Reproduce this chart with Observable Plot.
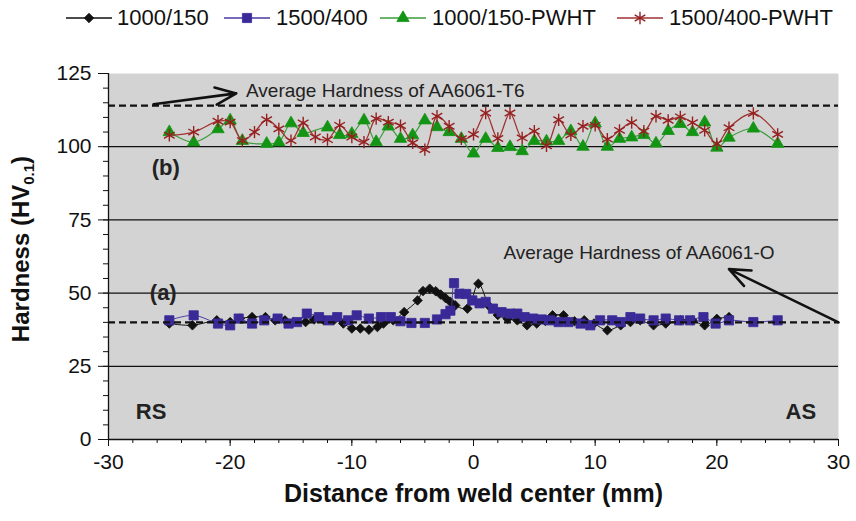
<!DOCTYPE html>
<html><head><meta charset="utf-8">
<script src="https://cdn.jsdelivr.net/npm/d3@7"></script>
<script src="https://cdn.jsdelivr.net/npm/@observablehq/plot@0.6"></script>
<style>
body{margin:0;background:#fff;font-family:"Liberation Sans",Arial,sans-serif;}
#wrap{position:relative;width:856px;height:521px;overflow:hidden;}
#legend{position:relative;height:36px;width:856px;}
.li{position:absolute;top:0;height:36px;display:flex;align-items:center;font-size:22px;color:#111;}
.ls{position:absolute;top:0;}
</style></head><body>
<div id="wrap"><div id="legend"></div><div id="chart"></div></div>
<script>
// ---- data ----
const seriesNames = ["1000/150", "1500/400", "1000/150-PWHT", "1500/400-PWHT"];

const x_1000_150 = [-25,-23.1,-21.1,-20,-19.2,-18.2,-17.1,-16.3,-15.5,-14.8,-13.8,-13.1,-12.3,-11.5,-10.7,-10.0,-9.3,-8.6,-7.9,-7.4,-6.6,-5.7,-4.6,-4.15,-3.6,-3.1,-2.7,-2.3,-1.9,-1.5,-0.5,0.4,1.3,2.0,2.8,3.6,4.4,5.2,5.9,6.5,7.4,8.3,9.1,9.9,11.0,12.1,12.9,13.7,14.8,15.8,17.0,18.0,19.0,20.0,21.0];
const hv_1000_150 = [39.6,39,40.7,40.1,41.3,41.8,41.8,40.7,40.7,40.1,40.1,41.0,40.7,40.7,39.6,37.9,37.9,37.5,38.4,39.6,40.7,43.5,47.5,50.7,51.5,50.6,49.5,48.3,47,45.8,44.7,53.2,45.5,42.5,41.2,40.7,39,39.6,40.5,42.4,42.4,40.4,40.7,39.6,37.3,39,40.1,40.7,39,39.6,40.7,40.7,39,41.2,41.8];

const x_1500_400 = [-25,-23,-21,-20,-19.3,-18.2,-17.2,-16.1,-15.2,-14.5,-13.7,-12.7,-11.9,-11.2,-10.3,-9.6,-8.6,-7.6,-6.8,-6.0,-5.1,-4.0,-3.0,-2.3,-1.9,-1.6,-1.15,-0.6,-0.1,0.5,1.0,1.6,2.3,3.0,3.6,4.2,4.9,5.6,6.3,7.0,7.8,8.8,9.6,10.4,11.4,12.1,12.9,13.7,14.8,15.8,16.9,17.8,18.9,19.9,21,23,25];
const hv_1500_400 = [40.7,42.4,39.6,39.0,41.3,39.6,40.7,41.3,39.6,40.1,43.0,41.8,40.7,41.8,40.7,42.4,41.3,41.8,41.8,40.4,39.8,39.8,41.0,42.8,44.0,53.4,49.8,49.7,47.5,46.5,47,44.7,43.5,43,43,41.8,41.3,41,40.7,40.1,40.1,39.6,39,40.7,40.7,40.1,41.8,41.3,40.7,41.3,40.7,40.7,41.8,39.6,40.7,40.1,40.7];

const x_1000_150_pwht = [-25,-23,-21,-20,-19,-17,-16,-15,-14,-12,-11,-10,-9,-8,-7,-6,-5,-4,-3,-2,-1,0,1,2,3,4,5,6,7,8,9,10,11,12,13,14,15,16,17,18,19,20,21,23,25];
const hv_1000_150_pwht = [105,101.5,106,109,102,101,101.5,108,104.7,106.6,104,104.4,109,101.6,106.9,102.7,103.9,109,106.7,105,102.7,97.7,102.7,99.6,99.9,98.5,102,101.8,102,105.3,100,108,100,102.7,103.2,104,101.1,105.4,107.8,105,108.3,99.7,103.1,106.2,101];

const x_1500_400_pwht = [-25,-23,-21,-20,-19,-18,-17,-16,-15,-14,-13,-12,-11,-10,-9,-8,-7,-6,-5,-4,-3,-2,-1,0,1,2,3,4,5,6,7,8,9,10,11,12,13,14,15,16,17,18,19,20,21,23,25];
const hv_1500_400_pwht = [103.9,105,108.7,108.4,102.1,105,109.2,106.1,102.1,108.1,103.3,102.4,107.3,103.3,101.6,109.6,108.4,107.2,101.3,99,110.4,107,102.7,104.2,111.5,102.8,111.5,103,105.3,100.3,109.2,104,107,107.3,102.6,105.6,108.2,105.3,110.4,109,110.2,108.2,105.6,101,106.5,111.4,104.2];

const xTicks = [-30,-20,-10,0,10,20,30];
const xMinor = d3.range(-30, 31, 2);
const yTicks = [0,25,50,75,100,125];
const yMinor = d3.range(0, 126, 5);
const gridValues = [25,50,75,100];
const refValues = [114, 40]; // average hardness of AA6061-T6 and AA6061-O

const annTexts = ["Average Hardness of AA6061-T6", "Average Hardness of AA6061-O"];
const annX = [-18.7, 2.46];
const annY = [119.2, 63.6];
const arrowX1 = [-26.3, 30.0], arrowY1 = [114.5, 40.0];
const arrowX2 = [-19.5, 21.0], arrowY2 = [118.2, 58.2];

const tagTexts = ["(b)", "(a)", "RS", "AS"];
const tagX = [-25.3, -25.5, -26.5, 26.9];
const tagY = [92.6, 50.2, 9.3, 9.3];

const xTitle = "Distance from weld center (mm)";

// ---- styles ----
const styles = [
  {symbol: "diamond2", fill: "#111", stroke: "#111", line: "#111", r: 4.3, lw: 1},
  {symbol: "square", fill: "#3a2a98", stroke: "#3a2a98", line: "#4a3aa8", r: 5.2, lw: 1},
  {symbol: "triangle", fill: "#149414", stroke: "#149414", line: "#3c9c3c", r: 4.6, lw: 1.2},
  {symbol: "asterisk", fill: "none", stroke: "#962020", line: "#a03232", r: 5.8, lw: 1.3}
];
const xs = [x_1000_150, x_1500_400, x_1000_150_pwht, x_1500_400_pwht];
const ys = [hv_1000_150, hv_1500_400, hv_1000_150_pwht, hv_1500_400_pwht];
const series = xs.map((xv, i) => xv.map((x, j) => ({x, y: ys[i][j], s: seriesNames[i]})));

const seriesMarks = series.flatMap((data, i) => {
  const st = styles[i];
  return [
    Plot.line(data, {x: "x", y: "y", stroke: st.line, strokeWidth: st.lw, curve: "catmull-rom"}),
    Plot.dot(data, {x: "x", y: "y", symbol: () => st.symbol, r: st.r, fill: st.fill, stroke: st.stroke, strokeWidth: st.symbol === "asterisk" ? 1.4 : 0.8})
  ];
});

const fmt = d => String(d);

const chart = Plot.plot({
  width: 856, height: 485,
  marginLeft: 108, marginRight: 18, marginTop: 37, marginBottom: 82,
  x: {domain: [-30, 30]},
  y: {domain: [0, 125]},
  symbol: {type: "identity"},
  style: {fontFamily: "'Liberation Sans', Arial, sans-serif", background: "#fff", color: "#111"},
  marks: [
    Plot.frame({fill: "#d3d3d3", stroke: "none"}),
    Plot.ruleY(gridValues, {stroke: "#111", strokeWidth: 1.2}),
    ...seriesMarks,
    Plot.ruleY(refValues, {stroke: "#111", strokeWidth: 2.2, strokeDasharray: "7,4"}),
    Plot.arrow(annTexts, {x1: (d, i) => arrowX1[i], y1: (d, i) => arrowY1[i], x2: (d, i) => arrowX2[i], y2: (d, i) => arrowY2[i], stroke: "#111", strokeWidth: 2.6, headLength: 13, headAngle: 45}),
    Plot.text(annTexts, {x: (d, i) => annX[i], y: (d, i) => annY[i], text: d => d, textAnchor: "start", fontSize: 19, fill: "#222"}),
    Plot.text(tagTexts, {x: (d, i) => tagX[i], y: (d, i) => tagY[i], text: d => d, fontSize: 22, fontWeight: "bold", fill: "#222"}),
    Plot.axisY({ticks: yMinor, tickSize: 5, tickFormat: () => "", label: null}),
    Plot.axisY({ticks: yTicks, tickSize: 10, tickPadding: 7, fontSize: 21, tickFormat: fmt, label: null}),
    Plot.axisX({ticks: xMinor, tickSize: 4, tickFormat: () => "", label: null}),
    Plot.axisX({ticks: xTicks, tickSize: 7, tickPadding: 8, fontSize: 21, tickFormat: fmt, label: null}),
    Plot.ruleX([-30], {stroke: "#111", strokeWidth: 1.3}),
    Plot.ruleY([0], {stroke: "#111", strokeWidth: 1.3}),
    Plot.text([xTitle], {frameAnchor: "bottom", dy: 62, text: d => d, fontSize: 25, fontWeight: "bold", fill: "#111"})
  ]
});
document.getElementById("chart").appendChild(chart);

// y-axis title with subscript
const svg = d3.select(chart);
const yt = svg.append("text")
  .attr("transform", "translate(29,213) rotate(-90)")
  .attr("text-anchor", "middle")
  .attr("font-size", 24).attr("font-weight", "bold").attr("fill", "#111")
  .attr("font-family", "'Liberation Sans', Arial, sans-serif");
yt.append("tspan").text("Hardness (HV");
yt.append("tspan").attr("font-size", 15).attr("dy", 5).text("0.1");
yt.append("tspan").attr("dy", -5).text(")");

// legend
const legendPos = [[66, 117], [224, 276], [380, 432], [617, 669]];
const leg = d3.select("#legend");
seriesNames.forEach((name, i) => {
  const st = styles[i];
  const [sx, tx] = legendPos[i];
  const s = leg.append("svg").attr("class", "ls").style("left", sx + "px").attr("width", 46).attr("height", 36);
  s.append("line").attr("x1", 0).attr("x2", 46).attr("y1", 18).attr("y2", 18).attr("stroke", st.line).attr("stroke-width", 1.6);
  const symMap = {diamond2: d3.symbolDiamond2, square: d3.symbolSquare, triangle: d3.symbolTriangle, asterisk: d3.symbolAsterisk};
  s.append("path").attr("transform", "translate(23,18)")
    .attr("d", d3.symbol(symMap[st.symbol], Math.PI * st.r * st.r)())
    .attr("fill", st.fill).attr("stroke", st.stroke).attr("stroke-width", st.symbol === "asterisk" ? 1.4 : 0.8);
  leg.append("div").attr("class", "li").style("left", tx + "px").text(name);
});
</script>
</body></html>
